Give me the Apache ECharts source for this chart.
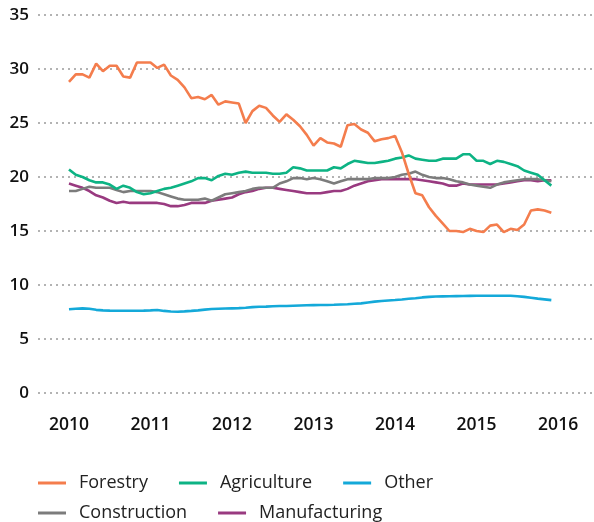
<!DOCTYPE html>
<html>
<head>
<meta charset="utf-8">
<script src="https://cdn.jsdelivr.net/npm/echarts@6/dist/echarts.min.js"></script>
<style>
  html, body { margin: 0; padding: 0; background: #fff; }
  #chart { width: 594px; height: 522px; }
</style>
</head>
<body>
<div id="chart"></div>
<script>
// monthly values, Jan 2010 .. Dec 2015
const start_year = 2010;
const year_ticks = [2010, 2011, 2012, 2013, 2014, 2015, 2016];

const forestry = [28.8, 29.5, 29.5, 29.2, 30.5, 29.8, 30.3, 30.3, 29.3, 29.2, 30.6, 30.6,
    30.6, 30.1, 30.4, 29.4, 29.0, 28.3, 27.3, 27.4, 27.2, 27.6, 26.7, 27.0,
    26.9, 26.8, 25.0, 26.1, 26.6, 26.4, 25.7, 25.1, 25.8, 25.3, 24.7, 23.9,
    22.9, 23.6, 23.2, 23.1, 22.8, 24.8, 24.9, 24.4, 24.1, 23.3, 23.5, 23.6,
    23.8, 22.3, 20.3, 18.5, 18.3, 17.2, 16.4, 15.7, 15.0, 15.0, 14.9, 15.2,
    15.0, 14.9, 15.5, 15.6, 14.9, 15.2, 15.1, 15.6, 16.9, 17.0, 16.9, 16.7];
const agriculture = [20.7, 20.2, 20.0, 19.7, 19.5, 19.5, 19.3, 18.9, 19.2, 19.0, 18.6, 18.4,
    18.5, 18.7, 18.9, 19.0, 19.2, 19.4, 19.6, 19.9, 19.9, 19.7, 20.1, 20.3,
    20.2, 20.4, 20.5, 20.4, 20.4, 20.4, 20.3, 20.3, 20.4, 20.9, 20.8, 20.6,
    20.6, 20.6, 20.6, 20.9, 20.8, 21.2, 21.5, 21.4, 21.3, 21.3, 21.4, 21.5,
    21.7, 21.8, 22.0, 21.7, 21.6, 21.5, 21.5, 21.7, 21.7, 21.7, 22.1, 22.1,
    21.5, 21.5, 21.2, 21.5, 21.4, 21.2, 21.0, 20.6, 20.4, 20.2, 19.7, 19.2];
const other = [7.75, 7.8, 7.84, 7.8, 7.7, 7.65, 7.63, 7.62, 7.62, 7.62, 7.62, 7.63,
    7.65, 7.68, 7.6, 7.55, 7.53, 7.56, 7.6, 7.65, 7.72, 7.78, 7.8, 7.82,
    7.84, 7.86, 7.9, 7.95, 7.98, 8.0, 8.03, 8.05, 8.06, 8.08, 8.1, 8.12,
    8.14, 8.15, 8.15, 8.17, 8.2, 8.22, 8.26, 8.3, 8.38, 8.46, 8.52, 8.57,
    8.61, 8.66, 8.72, 8.78, 8.85, 8.9, 8.93, 8.95, 8.96, 8.97, 8.98, 8.99,
    9.0, 9.01, 9.01, 9.01, 9.0, 9.0, 8.96, 8.9, 8.82, 8.74, 8.67, 8.6];
const construction = [18.7, 18.7, 18.9, 19.1, 19.0, 19.0, 19.0, 18.8, 18.6, 18.7, 18.7, 18.7,
    18.7, 18.6, 18.4, 18.2, 18.0, 17.9, 17.9, 17.9, 18.0, 17.8, 18.1, 18.4,
    18.5, 18.6, 18.7, 18.9, 19.0, 19.0, 19.0, 19.4, 19.6, 19.9, 19.9, 19.8,
    19.9, 19.8, 19.6, 19.4, 19.6, 19.8, 19.8, 19.8, 19.8, 19.9, 19.9, 19.9,
    20.0, 20.2, 20.3, 20.5, 20.2, 20.0, 19.9, 19.9, 19.8, 19.6, 19.5, 19.3,
    19.2, 19.1, 19.0, 19.3, 19.5, 19.6, 19.7, 19.8, 19.8, 19.8, 19.7, 19.6];
const manufacturing = [19.4, 19.2, 19.0, 18.7, 18.3, 18.1, 17.8, 17.6, 17.7, 17.6, 17.6, 17.6,
    17.6, 17.6, 17.5, 17.3, 17.3, 17.4, 17.6, 17.6, 17.6, 17.8, 17.9, 18.0,
    18.1, 18.4, 18.6, 18.7, 18.9, 19.0, 19.0, 18.9, 18.8, 18.7, 18.6, 18.5,
    18.5, 18.5, 18.6, 18.7, 18.7, 18.9, 19.2, 19.4, 19.6, 19.7, 19.8, 19.8,
    19.8, 19.8, 19.8, 19.8, 19.7, 19.6, 19.5, 19.4, 19.2, 19.2, 19.4, 19.3,
    19.3, 19.3, 19.3, 19.3, 19.4, 19.5, 19.6, 19.7, 19.7, 19.6, 19.7, 19.7];

const font = '"Open Sans", sans-serif';
const colors = {
    Forestry: '#f47d4d',
    Agriculture: '#0db384',
    Other: '#14a9d9',
    Construction: '#7c7c7c',
    Manufacturing: '#993a80',
};

function to_points(values) {
    return values.map((v, i) => [start_year + i / 12, v]);
}

function make_series(name, values) {
    return {
        name: name,
        type: 'line',
        symbol: 'none',
        smooth: false,
        color: colors[name],
        lineStyle: { width: 2.6, color: colors[name] },
        data: to_points(values),
    };
}

const legend_temp = {
    left: 38,
    padding: 0,
    orient: 'horizontal',
    icon: 'rect',
    itemWidth: 28,
    itemHeight: 3,
    itemGap: 31,
    textStyle: {
        fontFamily: font,
        fontSize: 18,
        color: '#222',
        lineHeight: 20,
        padding: [0, 0, 0, 8],
    },
};

const chart = echarts.init(document.getElementById('chart'));
const option = {
    animation: false,
    backgroundColor: '#fff',
    grid: { left: 38, right: 0, top: 15, bottom: 129 },
    legend: [
        Object.assign({}, legend_temp, { top: 473, data: ['Forestry', 'Agriculture', 'Other'] }),
        Object.assign({}, legend_temp, { top: 503, data: ['Construction', 'Manufacturing'] }),
    ],
    xAxis: {
        type: 'value',
        min: 2009.62,
        max: 2016.44,
        axisLine: { show: false },
        axisTick: { show: false },
        splitLine: { show: false },
        axisLabel: {
            customValues: year_ticks,
            formatter: (v) => String(v),
            margin: 23,
            fontFamily: font,
            fontSize: 17.5,
            fontWeight: 600,
            color: '#111',
        },
    },
    yAxis: {
        type: 'value',
        min: 0,
        max: 35,
        interval: 5,
        axisLine: { show: false },
        axisTick: { show: false },
        axisLabel: {
            margin: 9,
            fontFamily: font,
            fontSize: 17,
            fontWeight: 600,
            color: '#111',
        },
        splitLine: {
            lineStyle: { color: '#b3b3b3', width: 2, type: [2, 4] },
        },
    },
    series: [
        make_series('Other', other),
        make_series('Manufacturing', manufacturing),
        make_series('Construction', construction),
        make_series('Agriculture', agriculture),
        make_series('Forestry', forestry),
    ],
};
chart.setOption(option);
</script>
</body>
</html>
